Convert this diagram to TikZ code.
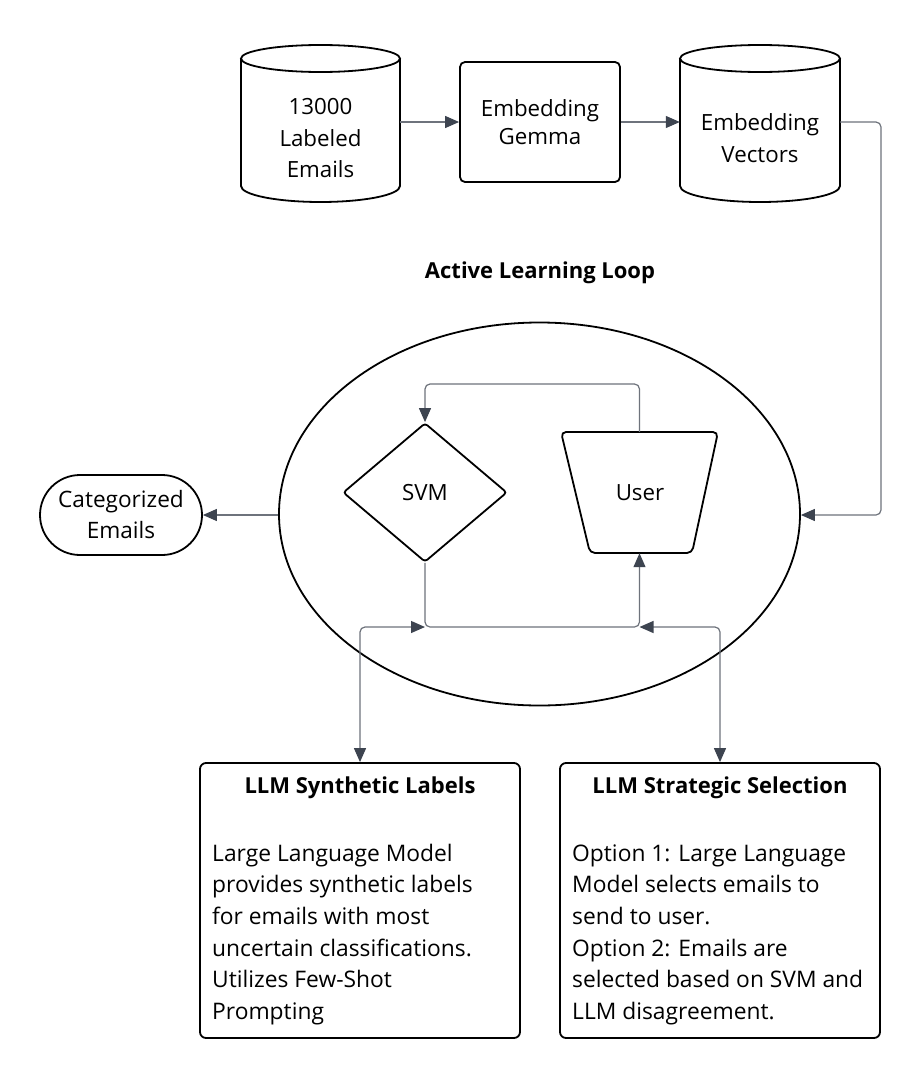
\documentclass[tikz,border=0pt]{standalone}
\usepackage{fontspec}
\setmainfont{Open Sans}
\usetikzlibrary{arrows.meta,shapes.geometric,calc}
\definecolor{conncol}{HTML}{6E737C}
\definecolor{tipcol}{HTML}{3D4450}
\tikzset{
  shp/.style={draw=black, line width=1.8pt},
  conn/.style={draw=conncol, line width=1.2pt, rounded corners=5pt,
    -{Triangle[length=14pt,width=12pt,color=tipcol]}},
  biconn/.style={draw=conncol, line width=1.2pt, rounded corners=5pt,
    {Triangle[length=14pt,width=12pt,color=tipcol]}-{Triangle[length=14pt,width=12pt,color=tipcol]}},
  bigtxt/.style={font=\fontsize{22.3}{31.5}\selectfont, align=center},
  bodytxt/.style={font=\fontsize{22.8}{31.7}\selectfont, align=left, inner sep=0pt},
  ttl/.style={font=\fontsize{22}{26}\selectfont\bfseries, inner sep=0pt},
  ghost/.style={draw=none, inner sep=0pt, rectangle}
}
\begin{document}
\begin{tikzpicture}[x=1pt,y=-1pt]
\useasboundingbox (0,0) rectangle (921,1079);
\fill[white] (0,0) rectangle (921,1079);

% cylinder 1
\draw[shp] (241,58.5) -- (241,186) arc[start angle=180,end angle=360,x radius=79.5pt,y radius=16pt] -- (400,58.5);
\draw[shp] (320.5,58.5) ellipse[x radius=79.5pt, y radius=13.5pt];
\node[ghost, minimum width=159pt, minimum height=156pt] (cyl1) at (320.5,122) {};
\node[bigtxt] (cyl1t) at (320.5,138.5) {13000\\Labeled\\Emails};

% embedding gemma box
\node[shp, rounded corners=5pt, minimum width=160pt, minimum height=120pt, inner sep=0pt, bigtxt, font=\fontsize{22.3}{28}\selectfont] (gemma) at (540,122) {Embedding\\Gemma};

% cylinder 2
\draw[shp] (680,58.5) -- (680,186) arc[start angle=180,end angle=360,x radius=80pt,y radius=16pt] -- (840,58.5);
\draw[shp] (760,58.5) ellipse[x radius=80pt, y radius=13.5pt];
\node[ghost, minimum width=160pt, minimum height=156pt] (cyl2) at (760,122) {};
\node[bigtxt] (cyl2t) at (760,138) {Embedding\\Vectors};

% title
\node[ttl] (looptitle) at (540,273) {Active Learning Loop};

% loop ellipse
\node[shp, ellipse, minimum width=521pt, minimum height=383pt, inner sep=0pt] (loop) at (539.5,514) {};

% categorized emails
\node[shp, rounded corners=40pt, minimum width=162pt, minimum height=80pt, inner sep=0pt, bigtxt, font=\fontsize{22.6}{31}\selectfont] (cat) at (121,515) {Categorized\\Emails};

% SVM diamond
\node[shp, diamond, rounded corners=3pt, minimum width=164pt, minimum height=139pt, inner sep=0pt] (svm) at (425,492.5) {};
\node[bigtxt] (svmt) at (425,492.5) {SVM};

% User trapezoid
\draw[shp, rounded corners=5pt] (561,432) -- (718,432) -- (692,553) -- (590,553) -- cycle;
\node[ghost, minimum width=157pt, minimum height=121pt] (user) at (639.5,492.5) {};
\node[bigtxt] (usert) at (640,492.5) {User};

% bottom boxes
\node[shp, rounded corners=6pt, minimum width=320pt, minimum height=275pt, inner sep=0pt] (llm1) at (360,900.5) {};
\node[ttl] (llm1t) at (360,788) {LLM Synthetic Labels};
\node[bodytxt, anchor=base west] (llm1b) at (212,1019.5) {Large Language Model\\provides synthetic labels\\for emails with most\\uncertain classifications.\\Utilizes Few-Shot\\Prompting};

\node[shp, rounded corners=6pt, minimum width=320pt, minimum height=275pt, inner sep=0pt] (llm2) at (720,900.5) {};
\node[ttl] (llm2t) at (720,788) {LLM Strategic Selection};
\node[bodytxt, anchor=base west] (llm2b) at (572,1019.5) {Option 1: Large Language\\Model selects emails to\\send to user.\\Option 2: Emails are\\selected based on SVM and\\LLM disagreement.};

% coordinates
\coordinate (r1) at (881,515);
\coordinate (t1) at (425,384);
\coordinate (bus) at (532,627);

% connectors
\draw[conn] (cyl1.east) -- (gemma.west);
\draw[conn] (gemma.east) -- (cyl2.west);
\draw[conn] (cyl2.east) -| (r1) -- (loop.east |- r1);
\draw[conn] (loop.west |- cat.east) -- (cat.east);
\draw[conn] (user.north) |- (t1) -- (svm.north);
\draw[conn] (svm.south) |- (bus) -| (user.south);
\draw[biconn] (llm1.north) |- (svm.south |- bus);
\draw[biconn] (llm2.north) |- (user.south |- bus);
\end{tikzpicture}
\end{document}
